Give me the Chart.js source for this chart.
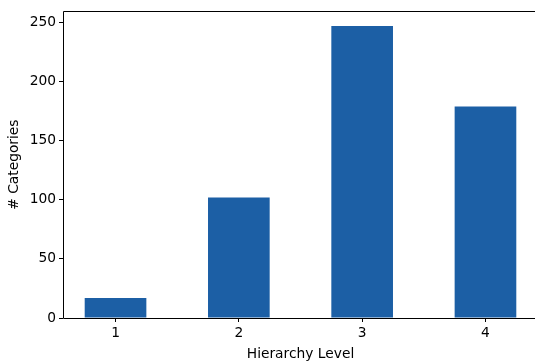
<!DOCTYPE html>
<html>
<head>
<meta charset="utf-8">
<script src="https://cdn.jsdelivr.net/npm/chart.js@4"></script>
<style>
  html, body { margin: 0; padding: 0; background: #fff; }
  #wrap { width: 535px; height: 363px; overflow: hidden; }
</style>
</head>
<body>
<div id="wrap"><canvas id="levels" width="542" height="363"></canvas></div>
<script>
// categories per hierarchy level
const levels = [1, 2, 3, 4];
const categoryCounts = [17, 102, 247, 179];
const yTicks = [0, 50, 100, 150, 200, 250];
const yMax = 259.5;

const FONT = { family: '"DejaVu Sans", sans-serif', size: 13.8 };

// left, top and bottom spines of the plot area, drawn as separate segments
const spines = {
    id: 'spines',
    afterDatasetsDraw(chart) {
        const { ctx, chartArea: a } = chart;
        const l = Math.round(a.left) + 0.5, t = Math.round(a.top) + 0.5, b = Math.round(a.bottom) + 0.5;
        ctx.save();
        ctx.strokeStyle = '#000';
        ctx.lineWidth = 1;
        ctx.beginPath();
        ctx.moveTo(l, t); ctx.lineTo(a.right, t);
        ctx.moveTo(l, t); ctx.lineTo(l, b);
        ctx.moveTo(l, b); ctx.lineTo(a.right, b);
        ctx.stroke();
        ctx.restore();
    }
};

new Chart(document.getElementById('levels'), {
    type: 'bar',
    data: {
        datasets: [{
            data: levels.map((lv, i) => ({ x: lv, y: categoryCounts[i] })),
            backgroundColor: '#1c5fa5',
            borderWidth: 0,
            barPercentage: 0.5,
            categoryPercentage: 1
        }]
    },
    options: {
        responsive: false,
        animation: false,
        layout: { padding: { top: 10, right: 4, left: 0, bottom: 0 } },
        plugins: { legend: { display: false }, tooltip: { enabled: false } },
        scales: {
            x: {
                type: 'linear',
                min: 0.574,
                max: 4.426,
                offset: false,
                afterBuildTicks: s => { s.ticks = levels.map(v => ({ value: v })); },
                afterFit: s => { s.height = 45; },
                border: { display: false },
                grid: { offset: false, drawOnChartArea: false, drawTicks: true, tickLength: 4, color: '#000' },
                ticks: { color: '#000', font: FONT, padding: 3, maxRotation: 0 },
                title: { display: true, text: 'Hierarchy Level', color: '#000', font: FONT, padding: { top: 0, bottom: 0 } }
            },
            y: {
                min: 0,
                max: yMax,
                afterBuildTicks: s => { s.ticks = yTicks.map(v => ({ value: v })); },
                afterFit: s => { s.width = 63; },
                border: { display: false },
                grid: { drawOnChartArea: false, drawTicks: true, tickLength: 4, color: '#000' },
                ticks: { color: '#000', font: FONT, padding: 3 },
                title: { display: true, text: '# Categories', color: '#000', font: FONT, padding: { top: 6, bottom: 0 } }
            }
        }
    },
    plugins: [spines]
});
</script>
</body>
</html>
